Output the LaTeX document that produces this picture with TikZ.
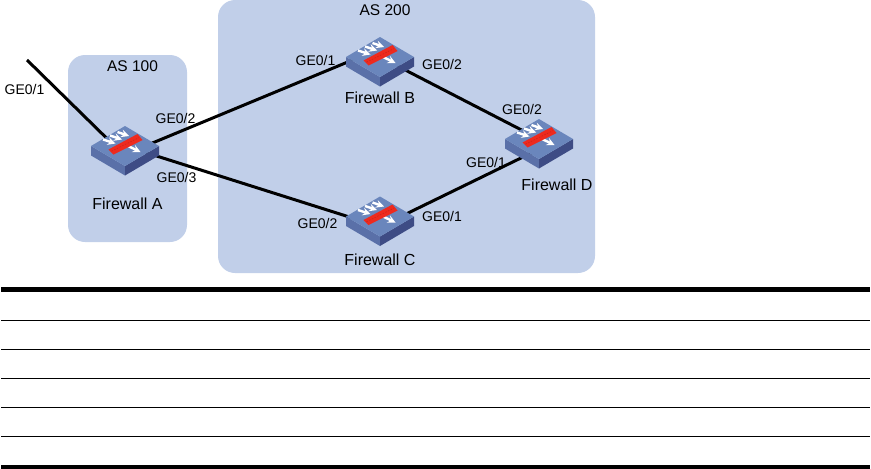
\documentclass[tikz,border=0pt]{standalone}
\usepackage{fontspec}
\setmainfont{Liberation Sans}
\usepackage{xcolor}
\usetikzlibrary{arrows}
\definecolor{panelblue}{HTML}{C1CFE9}
\definecolor{topface}{HTML}{6A86BC}
\definecolor{leftface}{HTML}{5A70A8}
\definecolor{rightface}{HTML}{3E4C85}
\definecolor{barred}{HTML}{EE2A1E}
\tikzstyle{panel} = [rectangle, rounded corners=17pt, fill=panelblue, draw=none, inner sep=0pt]
\tikzstyle{device} = [rectangle, draw=none, minimum width=40pt, minimum height=20pt, inner sep=0pt]
\tikzstyle{link} = [line width=3pt, black]
\tikzstyle{port} = [font=\fontsize{14}{16}\selectfont, inner sep=0pt, text=black]
\tikzstyle{devname} = [font=\fontsize{16}{18}\selectfont, inner sep=0pt, text=black]
\tikzstyle{asname} = [font=\fontsize{15.5}{18}\selectfont, inner sep=0pt, text=black]
\tikzstyle{flow} = [->, >=stealth, white, line width=2.4pt]
\tikzset{
    pics/firewall/.style={
        code={
            \fill [leftface] (-34,0) -- (0,20) -- (0,29.5) -- (-34,9.5) -- cycle;
            \fill [rightface] (34,0) -- (0,20) -- (0,29.5) -- (34,9.5) -- cycle;
            \fill [topface] (-34,0) -- (0,-20) -- (34,0) -- (0,20) -- cycle;
            \draw [flow] (-22,-6.5) -- (-9.5,-2.5);
            \draw [flow] (-15,-10.5) -- (-3,-6.5);
            \draw [flow] (-7.5,-14) -- (4,-10);
            \draw [flow] (3,0) -- (15.5,6);
            \fill [barred] (-16.5,3.5) -- (-11.5,8.5) -- (17.5,-6) -- (12.5,-12) -- cycle;
            \draw [barred!85!black, line width=0.6pt, dash pattern=on 1.5pt off 1.5pt] (-13.5,5.2) -- (14,-8.4);
        }
    }
}
\begin{document}
\begin{tikzpicture}[x=1pt, y=-1pt]
        \useasboundingbox (0,0) rectangle (871,469);

        % Panels
        \node (asleft) [panel, minimum width=119pt, minimum height=187pt] at (127.5,148.5) {};
        \node (asright) [panel, minimum width=377pt, minimum height=273pt] at (406.5,136.5) {};

        % Nodes
        \coordinate (feed) at (27,60);
        \node (fwa) [device] at (125,146) {};
        \node (fwb) [device] at (380,57) {};
        \node (fwc) [device] at (380,216.5) {};
        \node (fwd) [device] at (539,139) {};

        % Links
        \draw [link] (feed) -- (fwa.south);
        \draw [link] (fwa.east) -- (fwb.west);
        \draw [link] (fwa.center) -- (fwc.south);
        \draw [link] (fwb.center) -- (fwd.center);
        \draw [link] (fwc.south) -- (fwd.south);

        % Icons
        \foreach \dev in {fwa,fwb,fwc,fwd}
            \pic at (\dev) {firewall};

        % Labels
        \node (asleftname) [asname] at (132.5,66) {AS 100};
        \node (asrightname) [asname] at (385,10) {AS 200};
        \node (namea) [devname] at (127.5,204) {Firewall A};
        \node (nameb) [devname] at (380,98) {Firewall B};
        \node (namec) [devname] at (380,260) {Firewall C};
        \node (named) [devname] at (557,185) {Firewall D};
        \node (porta) [port] at (24.5,89) {GE0/1};
        \node (portb) [port] at (175.5,118) {GE0/2};
        \node (portc) [port] at (176.5,177) {GE0/3};
        \node (portd) [port] at (315.5,60) {GE0/1};
        \node (porte) [port] at (442,64) {GE0/2};
        \node (portf) [port] at (522,109) {GE0/2};
        \node (portg) [port] at (486,162) {GE0/1};
        \node (porth) [port] at (317.5,223) {GE0/2};
        \node (porti) [port] at (442,216) {GE0/1};

        % Rules
        \draw [line width=4.5pt] (1,289.5) -- (870,289.5);
        \foreach \rowy in {320.5,349.5,378.5,407.5,436.5}
            \draw [line width=1.2pt] (1,\rowy) -- (870,\rowy);
        \draw [line width=4pt] (1,467) -- (870,467);

\end{tikzpicture}
\end{document}
